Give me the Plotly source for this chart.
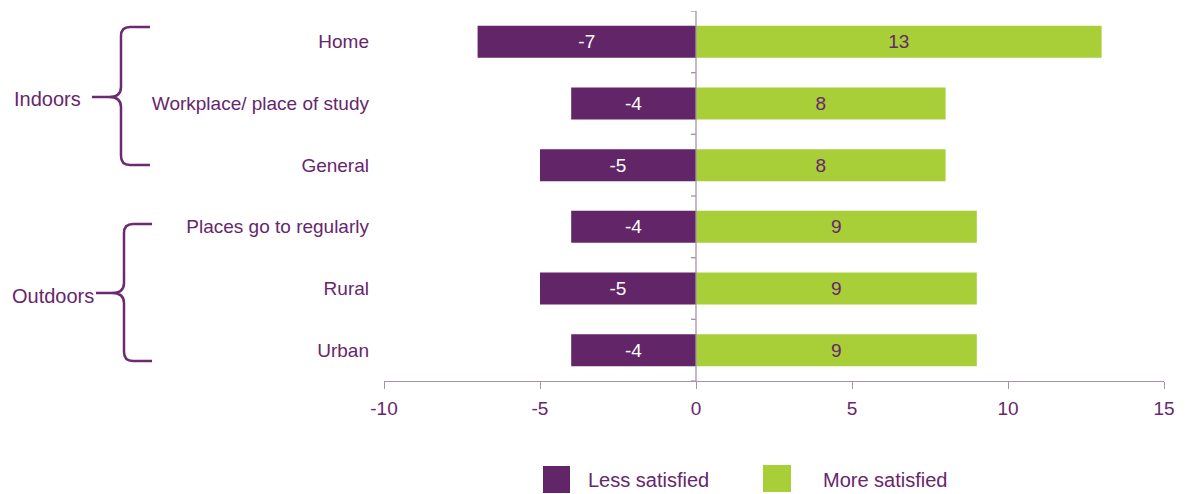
import plotly.graph_objects as go

categories = ["Home", "Workplace/ place of study", "General",
              "Places go to regularly", "Rural", "Urban"]
less_satisfied = [-7, -4, -5, -4, -5, -4]
more_satisfied = [13, 8, 8, 9, 9, 9]
series_names = ["Less satisfied", "More satisfied"]
x_ticks = [-10, -5, 0, 5, 10, 15]
groups = ["Indoors", "Outdoors"]

PURPLE = "#622567"
GREEN = "#a8ce38"
TEXT = "#67266d"
AXIS = "#a593a9"
FONT = "Liberation Sans, Arial, sans-serif"

W, H = 1185, 494
L, R, T, B = 384, 21, 11, 113
PW, PH = W - L - R, H - T - B


def px(x):
    return (x - L) / PW


def py(y):
    return (T + PH - y) / PH


fig = go.Figure()
fig.add_trace(go.Bar(
    y=categories, x=less_satisfied, orientation="h", name=series_names[0],
    marker=dict(color=PURPLE, line=dict(width=0)), width=0.52,
    text=[str(v) for v in less_satisfied], texttemplate="%{text}", textposition="inside",
    insidetextanchor="middle", textangle=0, constraintext="none",
    textfont=dict(color="white", size=19, family=FONT), showlegend=False))
fig.add_trace(go.Bar(
    y=categories, x=more_satisfied, orientation="h", name=series_names[1],
    marker=dict(color=GREEN, line=dict(width=0)), width=0.52,
    text=[str(v) for v in more_satisfied], texttemplate="%{text}", textposition="inside",
    insidetextanchor="middle", textangle=0, constraintext="none",
    textfont=dict(color=TEXT, size=19, family=FONT), showlegend=False))

shapes = []
# zero line
shapes.append(dict(type="line", xref="x", yref="paper", x0=0, x1=0, y0=0, y1=1,
                   line=dict(color=AXIS, width=1.3), layer="above"))
# ticks on zero line at category boundaries
for i in range(len(categories) + 1):
    shapes.append(dict(type="line", xref="x", yref="y", xsizemode="pixel", xanchor=0,
                       x0=-5, x1=0, y0=i - 0.5, y1=i - 0.5,
                       line=dict(color=AXIS, width=1.3), layer="above"))


def brace(top, mid, bot, xr, xv, xt):
    pts = [("M", xr, top), ("L", xv + 9, top), ("Q", xv, top, xv, top + 9),
           ("L", xv, mid - 10), ("Q", xv, mid, xv - 12, mid), ("L", xt, mid),
           ("M", xt, mid), ("L", xv - 12, mid), ("Q", xv, mid, xv, mid + 10),
           ("L", xv, bot - 9), ("Q", xv, bot, xv + 9, bot), ("L", xr, bot)]
    s = ""
    for p in pts:
        cmd = p[0]
        coords = p[1:]
        parts = []
        for j in range(0, len(coords), 2):
            parts.append(f"{px(coords[j]):.5f},{py(coords[j + 1]):.5f}")
        s += cmd + " ".join(parts) + " "
    return s.strip()


shapes.append(dict(type="path", xref="paper", yref="paper",
                   path=brace(27, 97, 165, 150, 121, 92),
                   line=dict(color="#6b2a72", width=2.5)))
shapes.append(dict(type="path", xref="paper", yref="paper",
                   path=brace(224, 293, 361, 152, 124, 96),
                   line=dict(color="#6b2a72", width=2.5)))

# legend swatches
shapes.append(dict(type="rect", xref="paper", yref="paper",
                   x0=px(543), x1=px(570), y0=py(493), y1=py(466),
                   fillcolor=PURPLE, line=dict(width=0)))
shapes.append(dict(type="rect", xref="paper", yref="paper",
                   x0=px(763), x1=px(791), y0=py(492), y1=py(465),
                   fillcolor=GREEN, line=dict(width=0)))

annotations = [
    dict(text=groups[0], xref="paper", yref="paper", x=px(12), y=py(99),
         xanchor="left", yanchor="middle", showarrow=False,
         font=dict(size=20, color=TEXT, family=FONT)),
    dict(text=groups[1], xref="paper", yref="paper", x=px(10), y=py(296),
         xanchor="left", yanchor="middle", showarrow=False,
         font=dict(size=20, color=TEXT, family=FONT)),
    dict(text=series_names[0], xref="paper", yref="paper", x=px(586), y=py(480),
         xanchor="left", yanchor="middle", showarrow=False,
         font=dict(size=20, color=TEXT, family=FONT)),
    dict(text=series_names[1], xref="paper", yref="paper", x=px(821), y=py(480),
         xanchor="left", yanchor="middle", showarrow=False,
         font=dict(size=20, color=TEXT, family=FONT)),
]

fig.update_layout(
    width=W, height=H,
    margin=dict(l=L, r=R, t=T, b=B, pad=0),
    barmode="relative", bargap=0.48,
    plot_bgcolor="white", paper_bgcolor="white",
    showlegend=False,
    font=dict(family=FONT, color=TEXT, size=19),
    shapes=shapes, annotations=annotations,
    xaxis=dict(range=[-10, 15], tickvals=x_ticks, ticktext=[str(v) for v in x_ticks],
               showgrid=False, zeroline=False, showline=True, linecolor=AXIS,
               linewidth=1.3, ticks="outside", ticklen=7, tickcolor=AXIS,
               tickwidth=1.3, ticklabelstandoff=3,
               tickfont=dict(size=19, color=TEXT, family=FONT), fixedrange=True),
    yaxis=dict(categoryorder="array", categoryarray=categories,
               range=[len(categories) - 0.5, -0.5],
               showgrid=False, zeroline=False, showline=False, ticks="",
               ticklabelstandoff=14,
               tickfont=dict(size=19, color=TEXT, family=FONT), fixedrange=True),
)

fig.write_html("out.html")
